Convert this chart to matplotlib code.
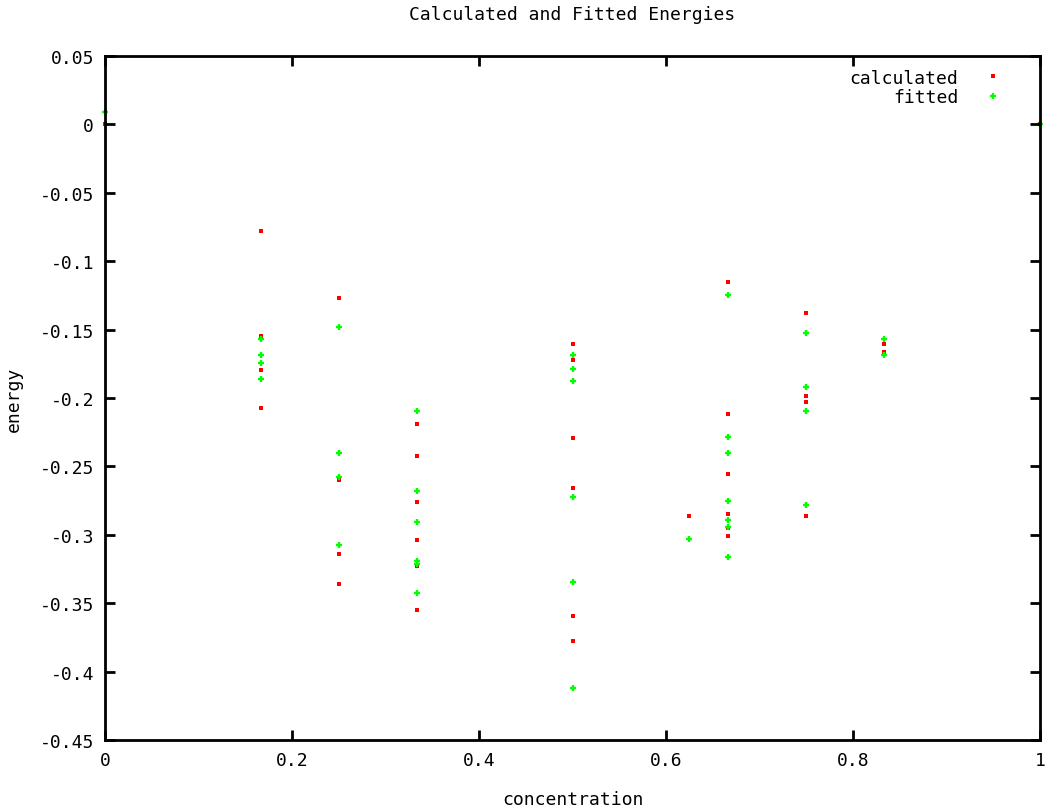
import matplotlib
matplotlib.use("Agg")
import matplotlib.pyplot as plt

# calculated energies (red squares)
calc_x = [0.0, 1/6, 1/6, 1/6, 1/6,
          0.25, 0.25, 0.25, 0.25,
          1/3, 1/3, 1/3, 1/3, 1/3, 1/3,
          0.5, 0.5, 0.5, 0.5, 0.5, 0.5,
          0.625,
          2/3, 2/3, 2/3, 2/3, 2/3, 2/3,
          0.75, 0.75, 0.75, 0.75,
          5/6, 5/6, 1.0]
calc_y = [0.0, -0.078, -0.1545, -0.1795, -0.2073,
          -0.127, -0.26, -0.3143, -0.3362,
          -0.219, -0.2426, -0.2763, -0.304, -0.3226, -0.3552,
          -0.1605, -0.1722, -0.2292, -0.266, -0.3596, -0.3774,
          -0.2865,
          -0.1154, -0.2119, -0.2558, -0.285, -0.2952, -0.3011,
          -0.138, -0.1988, -0.2031, -0.2865,
          -0.1607, -0.1666, 0.0]

# fitted energies (green crosses)
fit_x = [0.0, 1/6, 1/6, 1/6, 1/6,
         0.25, 0.25, 0.25, 0.25,
         1/3, 1/3, 1/3, 1/3, 1/3, 1/3,
         0.5, 0.5, 0.5, 0.5, 0.5, 0.5,
         0.625,
         2/3, 2/3, 2/3, 2/3, 2/3, 2/3, 2/3,
         0.75, 0.75, 0.75, 0.75,
         5/6, 5/6, 1.0]
fit_y = [0.009, -0.157, -0.1686, -0.1744, -0.1863,
         -0.1483, -0.2402, -0.258, -0.3075,
         -0.2097, -0.268, -0.2904, -0.3194, -0.321, -0.3425,
         -0.1686, -0.179, -0.1878, -0.2726, -0.3343, -0.4118,
         -0.3033,
         -0.1247, -0.2287, -0.2404, -0.2755, -0.289, -0.2945, -0.3164,
         -0.1527, -0.1922, -0.2097, -0.2785,
         -0.1569, -0.1688, 0.0]

xticks = [0, 0.2, 0.4, 0.6, 0.8, 1]
xtick_labels = ["0", "0.2", "0.4", "0.6", "0.8", "1"]
yticks = [0.05, 0, -0.05, -0.1, -0.15, -0.2, -0.25, -0.3, -0.35, -0.4, -0.45]
ytick_labels = ["0.05", "0", "-0.05", "-0.1", "-0.15", "-0.2", "-0.25",
                "-0.3", "-0.35", "-0.4", "-0.45"]

plt.rcParams['font.family'] = ['DejaVu Sans Mono']

fig = plt.figure(figsize=(10.46, 8.12), dpi=100)
ax = fig.add_axes([105/1046, 71/812, 935/1046, 684/812])

ax.plot(calc_x, calc_y, linestyle='none', marker='s', markersize=3,
        color='#ff0000', markeredgewidth=0, label='calculated', clip_on=False, zorder=1)
ax.plot(fit_x, fit_y, linestyle='none', marker='+', markersize=5,
        color='#00ff00', markeredgewidth=1.7, label='fitted', clip_on=False, zorder=1)

ax.set_xlim(0, 1)
ax.set_ylim(-0.45, 0.05)
ax.set_xticks(xticks)
ax.set_xticklabels(xtick_labels)
ax.set_yticks(yticks)
ax.set_yticklabels(ytick_labels)
ax.tick_params(direction='in', length=7, width=2, top=True, right=True,
               labelsize=13, pad=8)
for s in ax.spines.values():
    s.set_linewidth(2)
    s.set_zorder(3)

ax.set_title("Calculated and Fitted Energies", fontsize=13, pad=27)
ax.set_xlabel("concentration", fontsize=13, labelpad=15)
ax.set_ylabel("energy", fontsize=13, labelpad=12)

ax.legend(loc='upper right', bbox_to_anchor=(0.978, 1.0), frameon=False,
          markerfirst=False, fontsize=13, handlelength=1.5, handletextpad=1.2,
          labelspacing=0.1, borderaxespad=0.3)

fig.savefig("out.png", dpi=100)
